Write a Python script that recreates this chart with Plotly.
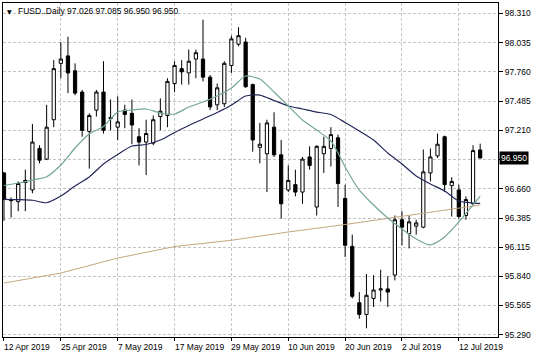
import pandas as pd
import plotly.graph_objects as go

# ---- data ----
dates = [d.strftime("%Y-%m-%d") for d in pd.bdate_range("2019-04-12", "2019-07-17")
         if d.strftime("%Y-%m-%d") != "2019-04-19"]

opens = [96.81, 96.56, 96.54, 96.74, 96.65, 97.04, 96.94, 97.31, 97.84, 97.91,
         97.77, 97.57, 97.20, 97.40, 97.57, 97.32, 97.24, 97.40, 97.37, 97.15,
         97.10, 97.09, 97.34, 97.35, 97.65, 97.79, 97.75, 97.88, 97.88, 97.71,
         97.45, 97.46, 97.82, 98.02, 98.04, 97.64, 97.05, 96.99, 97.24, 96.98,
         96.65, 96.70, 96.63, 96.96, 96.49, 96.99, 97.04, 97.14, 96.57, 96.12,
         95.59, 95.48, 95.63, 95.71, 95.72, 95.85, 96.37, 96.24, 96.31, 96.30,
         96.81, 96.97, 97.15, 96.69, 96.65, 96.41, 96.52, 97.026]
highs = [96.82, 96.58, 96.73, 96.84, 97.27, 97.07, 97.45, 97.87, 98.04, 98.09,
         97.84, 97.59, 97.37, 97.59, 97.86, 97.50, 97.53, 97.45, 97.50, 97.23,
         97.31, 97.35, 97.51, 97.70, 97.86, 97.87, 97.97, 97.97, 98.25, 97.73,
         97.65, 97.86, 98.10, 98.18, 98.08, 97.65, 97.28, 97.31, 97.38, 97.12,
         96.88, 96.84, 96.96, 97.06, 97.07, 97.15, 97.24, 97.17, 96.70, 96.23,
         95.69, 95.86, 95.85, 95.90, 95.84, 96.41, 96.45, 96.41, 96.37, 97.03,
         97.04, 97.18, 97.16, 96.77, 96.70, 96.59, 97.07, 97.085]
lows = [96.36, 96.39, 96.45, 96.45, 96.62, 96.90, 96.93, 97.24, 97.70, 97.56,
        97.54, 97.15, 96.85, 97.34, 97.18, 97.21, 97.12, 97.23, 97.08, 96.88,
        96.79, 97.07, 97.21, 97.24, 97.57, 97.64, 97.64, 97.70, 97.67, 97.40,
        97.40, 97.43, 97.75, 98.00, 97.61, 97.01, 96.90, 96.63, 96.96, 96.38,
        96.63, 96.59, 96.52, 96.84, 96.41, 96.81, 96.87, 96.49, 96.02, 95.63,
        95.44, 95.35, 95.55, 95.60, 95.55, 95.80, 96.13, 96.10, 96.23, 96.29,
        96.73, 96.95, 96.63, 96.40, 96.38, 96.37, 96.51, 96.950]
closes = [96.56, 96.55, 96.71, 96.72, 97.10, 96.93, 97.24, 97.79, 97.88, 97.75,
          97.56, 97.21, 97.35, 97.57, 97.21, 97.33, 97.29, 97.36, 97.26, 97.10,
          97.18, 97.31, 97.39, 97.67, 97.82, 97.76, 97.86, 97.94, 97.71, 97.43,
          97.61, 97.84, 98.07, 98.10, 97.62, 97.12, 97.08, 97.28, 96.98, 96.52,
          96.74, 96.63, 96.94, 96.88, 97.06, 97.06, 97.17, 96.71, 96.13, 95.65,
          95.48, 95.66, 95.71, 95.72, 95.69, 96.37, 96.30, 96.35, 96.34, 96.82,
          96.96, 97.08, 96.70, 96.73, 96.40, 96.56, 97.02, 96.950]

# moving averages (bar index -> value)
ma_fast_bars = [0, 2, 4, 6, 8, 10, 12, 14, 16, 18, 20, 22, 24, 26, 28, 30, 32, 34,
                36, 38, 40, 42, 44, 46, 47, 48, 50, 52, 54, 56, 58, 60, 62, 64, 66, 67]
ma_fast_vals = [96.692, 96.715, 96.743, 96.774, 96.884, 97.044, 97.176, 97.246, 97.383,
                97.401, 97.411, 97.373, 97.364, 97.429, 97.476, 97.533, 97.608, 97.721,
                97.693, 97.571, 97.439, 97.307, 97.213, 97.110, 96.997, 96.866, 96.649,
                96.509, 96.386, 96.283, 96.189, 96.133, 96.208, 96.349, 96.509, 96.593]

ma_mid_bars = [0, 2, 4, 6, 8, 10, 12, 14, 16, 18, 20, 22, 24, 26, 28, 30, 32, 34,
               36, 38, 40, 42, 44, 46, 48, 50, 52, 54, 56, 58, 60, 62, 64, 66, 67]
ma_mid_vals = [96.562, 96.559, 96.553, 96.530, 96.593, 96.687, 96.772, 96.894, 96.983,
               97.063, 97.077, 97.119, 97.190, 97.256, 97.317, 97.378, 97.448, 97.533,
               97.542, 97.491, 97.439, 97.411, 97.382, 97.359, 97.284, 97.204, 97.119,
               96.997, 96.894, 96.781, 96.706, 96.640, 96.546, 96.527, 96.523]

ma_slow_bars = [0, 8, 16, 24, 32, 40, 48, 56, 64, 67]
ma_slow_vals = [95.775, 95.869, 96.010, 96.118, 96.177, 96.255, 96.325, 96.400, 96.476, 96.508]

price_ticks = [98.310, 98.035, 97.760, 97.485, 97.210, 96.935, 96.660, 96.385,
               96.112, 95.840, 95.565, 95.290]
price_labels = ["98.310", "98.035", "97.760", "97.485", "97.210", "", "96.660", "96.385",
                "96.115", "95.840", "95.565", "95.290"]

date_tick_bars = [0, 8, 16, 24, 32, 40, 48, 56, 64]
date_tick_labels = ["12 Apr 2019", "25 Apr 2019", "7 May 2019", "17 May 2019", "29 May 2019",
                    "10 Jun 2019", "20 Jun 2019", "2 Jul 2019", "12 Jul 2019"]

symbol = "FUSD..Daily"
last_price = 96.950
last_label = "96.950"

FONT = "Liberation Sans"

fig = go.Figure()
fig.add_trace(go.Candlestick(
    x=dates, open=opens, high=highs, low=lows, close=closes,
    increasing=dict(fillcolor="white", line=dict(color="black", width=1)),
    decreasing=dict(fillcolor="black", line=dict(color="black", width=1)),
    whiskerwidth=0, showlegend=False, hoverinfo="skip",
))
fig.add_trace(go.Scatter(x=[dates[i] for i in ma_slow_bars], y=ma_slow_vals, mode="lines",
                         line=dict(color="#c6a67e", width=1), showlegend=False, hoverinfo="skip"))
fig.add_trace(go.Scatter(x=[dates[i] for i in ma_mid_bars], y=ma_mid_vals, mode="lines",
                         line=dict(color="#222759", width=1.2, shape="spline", smoothing=0.6),
                         showlegend=False, hoverinfo="skip"))
fig.add_trace(go.Scatter(x=[dates[i] for i in ma_fast_bars], y=ma_fast_vals, mode="lines",
                         line=dict(color="#74a697", width=1.2, shape="spline", smoothing=0.6),
                         showlegend=False, hoverinfo="skip"))

annotations = []
for b, lab in zip(date_tick_bars, date_tick_labels):
    annotations.append(dict(x=dates[b], xref="x", y=0, yref="paper", yshift=-10,
                            text=lab, showarrow=False, xanchor="left", yanchor="middle",
                            xshift=-2, font=dict(family=FONT, size=8.5, color="black")))
annotations.append(dict(x=1, xref="paper", y=last_price, yref="y", text=last_label,
                        showarrow=False, xanchor="left", yanchor="middle", xshift=1,
                        bgcolor="black", borderpad=1,
                        font=dict(family=FONT, size=8.5, color="white")))
annotations.append(dict(x=0, xref="paper", y=1, yref="paper", xshift=2, yshift=-8,
                        text="▼", showarrow=False, xanchor="left", yanchor="middle",
                        font=dict(family="DejaVu Sans", size=6, color="black")))
annotations.append(dict(x=0, xref="paper", y=1, yref="paper", xshift=13, yshift=-8,
                        text=f"{symbol} 97.026 97.085 96.950 96.950", showarrow=False,
                        xanchor="left", yanchor="middle",
                        font=dict(family=FONT, size=8.5, color="black")))

fig.update_layout(
    width=536, height=358,
    margin=dict(l=3, r=38, t=3, b=21),
    paper_bgcolor="white", plot_bgcolor="white",
    boxgap=0.35,
    annotations=annotations,
    xaxis=dict(type="category", range=[-0.14, 69.51], rangeslider=dict(visible=False),
               tickvals=[dates[b] for b in date_tick_bars], showticklabels=False,
               ticks="outside", ticklen=3, tickcolor="black",
               showgrid=True, gridcolor="#c4c4c4", griddash="3px,2px", gridwidth=1,
               showline=True, linecolor="black", linewidth=1, mirror=True, zeroline=False),
    yaxis=dict(side="right", range=[95.268, 98.407], tickvals=price_ticks, ticktext=price_labels,
               ticks="outside", ticklen=4, tickcolor="black",
               tickfont=dict(family=FONT, size=8.5, color="black"),
               showgrid=True, gridcolor="#c4c4c4", griddash="3px,2px", gridwidth=1,
               showline=True, linecolor="black", linewidth=1, mirror=True, zeroline=False),
)

fig.write_html("out.html", config={"displayModeBar": False},
               post_script="document.body.style.margin='0px';document.body.style.overflow='hidden';")
